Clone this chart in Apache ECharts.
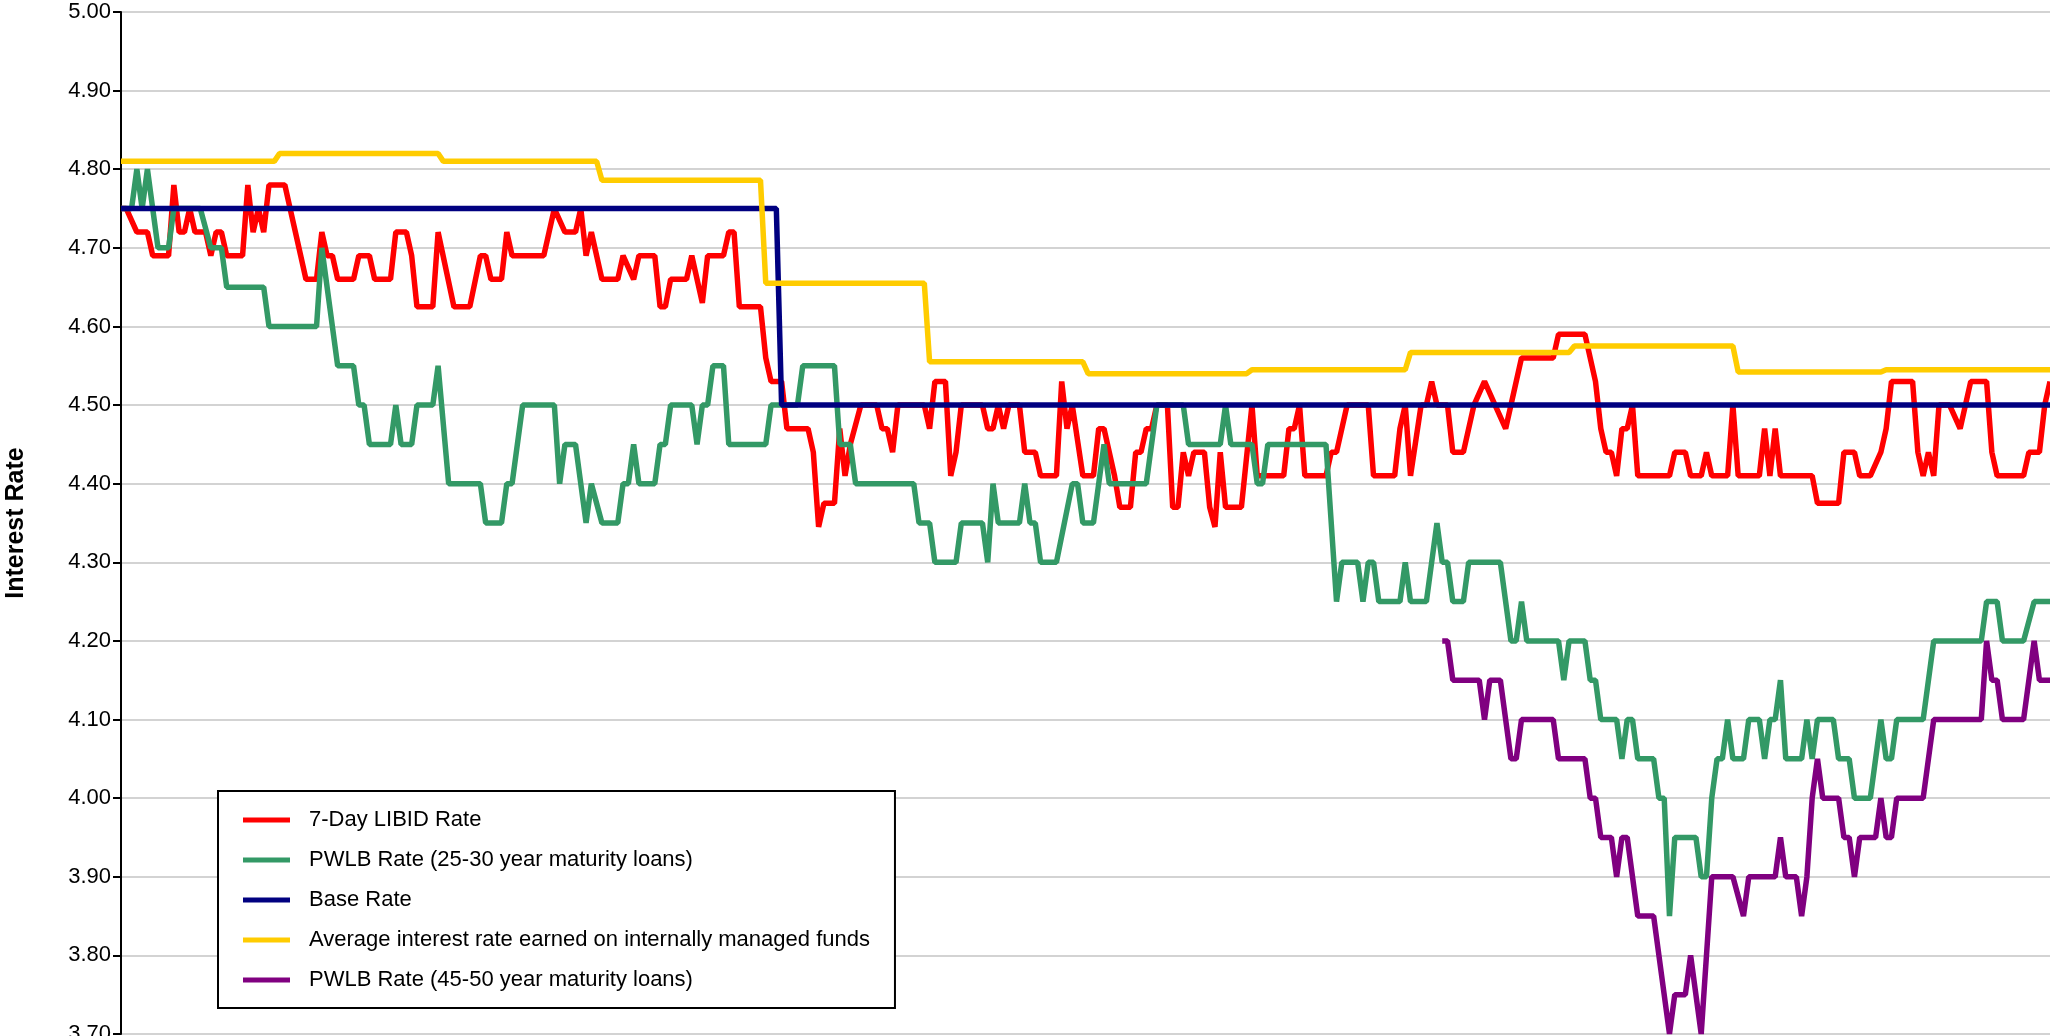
<!DOCTYPE html>
<html>
<head>
<meta charset="utf-8">
<style>
  html, body { margin: 0; padding: 0; background: #fff; }
  #chart { width: 2050px; height: 1036px; }
</style>
</head>
<body>
<div id="chart"></div>
<script src="https://cdn.jsdelivr.net/npm/echarts@6/dist/echarts.min.js"></script>
<script>
// day index (0 = 1 April) -> rate, vertices
var libid = [
  [0,4.75],[1,4.75],[3,4.72],[5,4.72],[6,4.69],[9,4.69],[10,4.78],[11,4.72],[12,4.72],[13,4.75],
  [14,4.72],[16,4.72],[17,4.69],[18,4.72],[19,4.72],[20,4.69],[23,4.69],[24,4.78],[25,4.72],[26,4.75],
  [27,4.72],[28,4.78],[31,4.78],[32,4.75],[34,4.69],[35,4.66],[37,4.66],[38,4.72],[39,4.69],[40,4.69],
  [41,4.66],[44,4.66],[45,4.69],[47,4.69],[48,4.66],[51,4.66],[52,4.72],[54,4.72],[55,4.69],[56,4.625],
  [59,4.625],[60,4.72],[63,4.625],[66,4.625],[68,4.69],[69,4.69],[70,4.66],[72,4.66],[73,4.72],[74,4.69],
  [80,4.69],[81,4.72],[82,4.75],[84,4.72],[86,4.72],[87,4.75],[88,4.69],[89,4.72],[91,4.66],[94,4.66],
  [95,4.69],[97,4.66],[98,4.69],[101,4.69],[102,4.625],[103,4.625],[104,4.66],[107,4.66],[108,4.69],[110,4.63],
  [111,4.69],[114,4.69],[115,4.72],[116,4.72],[117,4.625],[121,4.625],[122,4.56],[123,4.53],[125,4.53],[126,4.47],
  [130,4.47],[131,4.44],[132,4.345],[133,4.375],[135,4.375],[136,4.47],[137,4.41],[138,4.45],[140,4.50],[143,4.50],
  [144,4.47],[145,4.47],[146,4.44],[147,4.50],[152,4.50],[153,4.47],[154,4.53],[156,4.53],[157,4.41],[158,4.44],
  [159,4.50],[163,4.50],[164,4.47],[165,4.47],[166,4.50],[167,4.47],[168,4.50],[170,4.50],[171,4.44],[173,4.44],
  [174,4.41],[177,4.41],[178,4.53],[179,4.47],[180,4.50],[182,4.41],[184,4.41],[185,4.47],[186,4.47],[188,4.41],
  [189,4.37],[191,4.37],[192,4.44],[193,4.44],[194,4.47],[195,4.47],[196,4.50],[198,4.50],[199,4.37],[200,4.37],
  [201,4.44],[202,4.41],[203,4.44],[205,4.44],[206,4.37],[207,4.345],[208,4.44],[209,4.37],[212,4.37],[214,4.50],
  [215,4.41],[220,4.41],[221,4.47],[222,4.47],[223,4.50],[224,4.41],[228,4.41],[229,4.44],[230,4.44],[232,4.50],
  [236,4.50],[237,4.41],[241,4.41],[242,4.47],[243,4.50],[244,4.41],[246,4.50],[247,4.50],[248,4.53],[249,4.50],
  [251,4.50],[252,4.44],[254,4.44],[256,4.50],[258,4.53],[260,4.50],[262,4.47],[263,4.50],[265,4.56],[271,4.56],
  [272,4.59],[277,4.59],[279,4.53],[280,4.47],[281,4.44],[282,4.44],[283,4.41],[284,4.47],[285,4.47],[286,4.50],
  [287,4.41],[293,4.41],[294,4.44],[296,4.44],[297,4.41],[299,4.41],[300,4.44],[301,4.41],[304,4.41],[305,4.50],
  [306,4.41],[310,4.41],[311,4.47],[312,4.41],[313,4.47],[314,4.41],[320,4.41],[321,4.375],[325,4.375],[326,4.44],
  [328,4.44],[329,4.41],[331,4.41],[333,4.44],[334,4.47],[335,4.53],[339,4.53],[340,4.44],[341,4.41],[342,4.44],
  [343,4.41],[344,4.50],[346,4.50],[348,4.47],[350,4.53],[353,4.53],[354,4.44],[355,4.41],[360,4.41],[361,4.44],
  [363,4.44],[364,4.50],[365,4.53]
];

var pwlb25 = [
  [0,4.75],[2,4.75],[3,4.80],[4,4.75],[5,4.80],[6,4.75],[7,4.70],[9,4.70],[10,4.75],[15,4.75],
  [17,4.70],[19,4.70],[20,4.65],[27,4.65],[28,4.60],[37,4.60],[38,4.70],[41,4.55],[44,4.55],[45,4.50],
  [46,4.50],[47,4.45],[51,4.45],[52,4.50],[53,4.45],[55,4.45],[56,4.50],[59,4.50],[60,4.55],[62,4.40],
  [68,4.40],[69,4.35],[72,4.35],[73,4.40],[74,4.40],[76,4.50],[82,4.50],[83,4.40],[84,4.45],[86,4.45],
  [88,4.35],[89,4.40],[91,4.35],[94,4.35],[95,4.40],[96,4.40],[97,4.45],[98,4.40],[101,4.40],[102,4.45],
  [103,4.45],[104,4.50],[108,4.50],[109,4.45],[110,4.50],[111,4.50],[112,4.55],[114,4.55],[115,4.45],[122,4.45],
  [123,4.50],[128,4.50],[129,4.55],[135,4.55],[136,4.45],[138,4.45],[139,4.40],[150,4.40],[151,4.35],[153,4.35],
  [154,4.30],[158,4.30],[159,4.35],[163,4.35],[164,4.30],[165,4.40],[166,4.35],[170,4.35],[171,4.40],[172,4.35],
  [173,4.35],[174,4.30],[177,4.30],[180,4.40],[181,4.40],[182,4.35],[184,4.35],[186,4.45],[187,4.40],[194,4.40],
  [196,4.50],[201,4.50],[202,4.45],[208,4.45],[209,4.50],[210,4.45],[214,4.45],[215,4.40],[216,4.40],[217,4.45],
  [228,4.45],[230,4.25],[231,4.30],[234,4.30],[235,4.25],[236,4.30],[237,4.30],[238,4.25],[242,4.25],[243,4.30],
  [244,4.25],[247,4.25],[249,4.35],[250,4.30],[251,4.30],[252,4.25],[254,4.25],[255,4.30],[261,4.30],[263,4.20],
  [264,4.20],[265,4.25],[266,4.20],[272,4.20],[273,4.15],[274,4.20],[277,4.20],[278,4.15],[279,4.15],[280,4.10],
  [283,4.10],[284,4.05],[285,4.10],[286,4.10],[287,4.05],[290,4.05],[291,4.00],[292,4.00],[293,3.85],[294,3.95],
  [298,3.95],[299,3.90],[300,3.90],[301,4.00],[302,4.05],[303,4.05],[304,4.10],[305,4.05],[307,4.05],[308,4.10],
  [310,4.10],[311,4.05],[312,4.10],[313,4.10],[314,4.15],[315,4.05],[318,4.05],[319,4.10],[320,4.05],[321,4.10],
  [324,4.10],[325,4.05],[327,4.05],[328,4.00],[331,4.00],[333,4.10],[334,4.05],[335,4.05],[336,4.10],[341,4.10],
  [343,4.20],[352,4.20],[353,4.25],[355,4.25],[356,4.20],[360,4.20],[362,4.25],[365,4.25]
];

var baseRate = [[0,4.75],[124,4.75],[125,4.50],[365,4.50]];

var avgFunds = [
  [0,4.81],[29,4.81],[30,4.82],[60,4.82],[61,4.81],[90,4.81],[91,4.786],[121,4.786],[122,4.655],[152,4.655],
  [153,4.555],[182,4.555],[183,4.54],[213,4.54],[214,4.545],[243,4.545],[244,4.567],[274,4.567],[275,4.575],[305,4.575],
  [306,4.542],[333,4.542],[334,4.545],[365,4.545]
];

var pwlb45 = [
  [250,4.20],[251,4.20],[252,4.15],[257,4.15],[258,4.10],[259,4.15],[261,4.15],[263,4.05],[264,4.05],[265,4.10],
  [271,4.10],[272,4.05],[277,4.05],[278,4.00],[279,4.00],[280,3.95],[282,3.95],[283,3.90],[284,3.95],[285,3.95],
  [287,3.85],[290,3.85],[293,3.70],[294,3.75],[296,3.75],[297,3.80],[299,3.70],[301,3.90],[305,3.90],[307,3.85],
  [308,3.90],[313,3.90],[314,3.95],[315,3.90],[317,3.90],[318,3.85],[319,3.90],[320,4.00],[321,4.05],[322,4.00],
  [325,4.00],[326,3.95],[327,3.95],[328,3.90],[329,3.95],[332,3.95],[333,4.00],[334,3.95],[335,3.95],[336,4.00],
  [341,4.00],[343,4.10],[352,4.10],[353,4.20],[354,4.15],[355,4.15],[356,4.10],[360,4.10],[362,4.20],[363,4.15],
  [365,4.15]
];

var seriesNames = [
  '7-Day LIBID Rate',
  'PWLB Rate (25-30 year maturity loans)',
  'Base Rate',
  'Average interest rate earned on internally managed funds',
  'PWLB Rate (45-50 year maturity loans)'
];
var seriesColors = ['#ff0000', '#339966', '#000080', '#ffcc00', '#800080'];
var seriesData = [libid, pwlb25, baseRate, avgFunds, pwlb45];

var chart = echarts.init(document.getElementById('chart'));

var series = [];
for (var i = 0; i < seriesData.length; i++) {
  series.push({
    name: seriesNames[i],
    type: 'line',
    data: seriesData[i],
    showSymbol: false,
    color: seriesColors[i],
    lineStyle: { width: 5.5, color: seriesColors[i] },
    animation: false
  });
}

chart.setOption({
  backgroundColor: '#fff',
  animation: false,
  grid: { left: 121, right: 0, top: 12, bottom: 2, outerBoundsMode: 'none' },
  xAxis: {
    type: 'value',
    min: 0,
    max: 365,
    show: false
  },
  yAxis: {
    type: 'value',
    min: 3.7,
    max: 5.0,
    interval: 0.1,
    name: 'Interest Rate',
    nameLocation: 'middle',
    nameRotate: 90,
    nameGap: 92,
    nameTextStyle: {
      fontFamily: 'Liberation Sans, Arial',
      fontWeight: 'bold',
      fontSize: 25,
      color: '#000'
    },
    axisLine: { show: true, lineStyle: { color: '#000', width: 2 } },
    axisTick: { show: true, length: 8, lineStyle: { color: '#000', width: 2 } },
    axisLabel: {
      margin: 10,
      fontFamily: 'Liberation Sans, Arial',
      fontSize: 22,
      color: '#000',
      formatter: function (v) { return v.toFixed(2); }
    },
    splitLine: { lineStyle: { color: '#c4c4c4', width: 1.5 } }
  },
  legend: {
    orient: 'vertical',
    left: 218,
    top: 791,
    icon: 'rect',
    itemWidth: 47,
    itemHeight: 5,
    itemGap: 16,
    padding: [17, 25, 16, 25],
    borderColor: '#000',
    borderWidth: 2,
    backgroundColor: '#fff',
    textStyle: {
      fontFamily: 'Liberation Sans, Arial',
      fontSize: 22,
      lineHeight: 24,
      color: '#000',
      padding: [0, 0, 0, 14]
    },
    data: seriesNames
  },
  series: series
});
</script>
</body>
</html>
